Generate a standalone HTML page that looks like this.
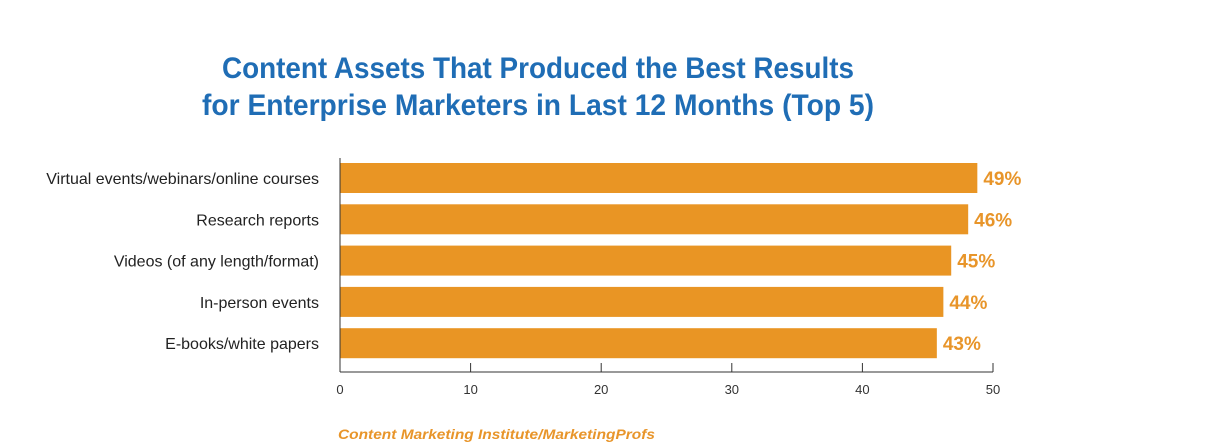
<!DOCTYPE html>
<html><head><meta charset="utf-8"><style>
html,body{margin:0;padding:0;background:#fff;}
svg{display:block;font-family:"Liberation Sans",sans-serif;}
</style></head><body>
<svg id="chart" width="1216" height="448" viewBox="0 0 1216 448">
<text x="538" y="78" text-anchor="middle" font-size="30" font-weight="bold" fill="#1f6db5" textLength="632" lengthAdjust="spacingAndGlyphs">Content Assets That Produced the Best Results</text>
<text x="538" y="115" text-anchor="middle" font-size="30" font-weight="bold" fill="#1f6db5" textLength="672" lengthAdjust="spacingAndGlyphs">for Enterprise Marketers in Last 12 Months (Top 5)</text>
<g id="bars"></g>
<text x="338" y="439" font-size="14" font-weight="bold" font-style="italic" fill="#e8952a" textLength="317" lengthAdjust="spacingAndGlyphs">Content Marketing Institute/MarketingProfs</text>
</svg>
<script>
const categories=["Virtual events/webinars/online courses","Research reports","Videos (of any length/format)","In-person events","E-books/white papers"];
const barValues=[48.8,48.1,46.8,46.2,45.7];
const valueLabels=["49%","46%","45%","44%","43%"];
const ticks=[0,10,20,30,40,50];
const NS="http://www.w3.org/2000/svg";
const g=document.getElementById('bars');
const x0=340,x1=993,xmax=50;
const xs=v=>x0+(v/xmax)*(x1-x0);
const top0=163,pitch=41.3,bh=30,axisY=372;
function mk(t,a){const e=document.createElementNS(NS,t);for(const k in a)e.setAttribute(k,a[k]);g.appendChild(e);return e;}
categories.forEach((c,i)=>{
  const y=top0+i*pitch;
  const r=mk('rect',{x:x0,y:y,width:xs(barValues[i])-x0,height:bh,fill:'#e99524'});
  
  
  const l=mk('text',{x:319,y:y+bh/2+6,'text-anchor':'end','font-size':16,fill:'#222'});
  l.textContent=c;
  
  
  const v=mk('text',{x:xs(barValues[i])+6,y:y+bh/2+7,'font-size':19,'font-weight':'bold',fill:'#e8952a'});
  v.textContent=valueLabels[i];
  
  
});
const ya=mk('line',{x1:x0,y1:158,x2:x0,y2:axisY,stroke:'#333','stroke-width':1});


const xa=mk('line',{x1:x0,y1:axisY,x2:x1,y2:axisY,stroke:'#333','stroke-width':1});


ticks.forEach(t=>{
  const tl=mk('line',{x1:xs(t),y1:axisY-9,x2:xs(t),y2:axisY,stroke:'#333','stroke-width':1});
  
  
  const tx=mk('text',{x:xs(t),y:axisY+22,'text-anchor':'middle','font-size':13,fill:'#333'});
  tx.textContent=t;
  
  
});
</script>
</body></html>
